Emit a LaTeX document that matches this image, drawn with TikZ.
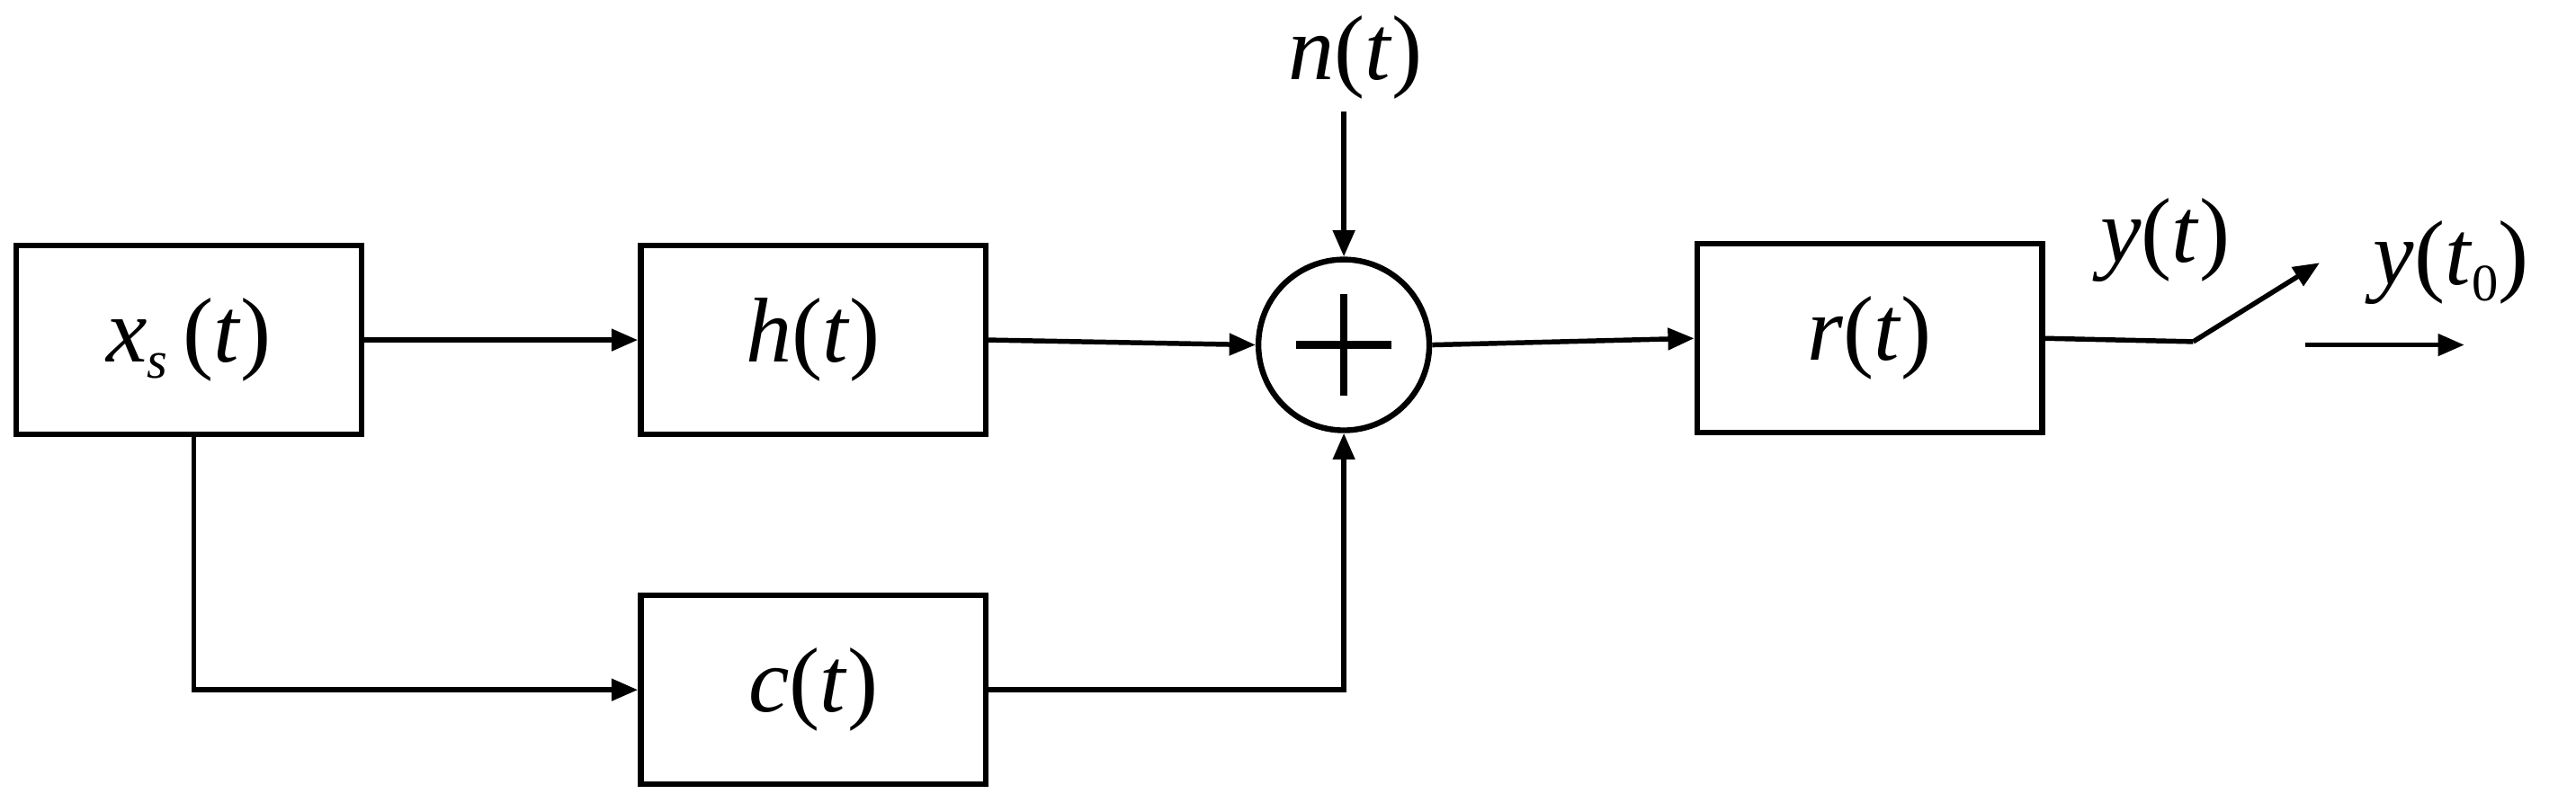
\documentclass[tikz,border=0pt]{standalone}
\usepackage{fontspec}
\setmainfont{Liberation Serif}
\usetikzlibrary{arrows.meta,calc}
\newcommand{\mi}[1]{\textit{#1}}
\newcommand{\sub}[1]{\raisebox{-10pt}{\fontsize{32}{34}\selectfont #1}}
\begin{document}
\begin{tikzpicture}[x=1pt,y=-1pt,
  blk/.style={draw,line width=3.5pt,minimum width=210pt,minimum height=115pt,inner sep=0pt,font=\fontsize{56}{60}\selectfont},
  lbl/.style={font=\fontsize{56}{60}\selectfont,inner sep=0pt},
  ar/.style={line width=3pt,-{Triangle[length=16pt,width=13pt]}},
  ln/.style={line width=3pt}]
\useasboundingbox (0,0) rectangle (1568,494);
\node[blk] (xs) at (115,207) {\mi{x}\sub{\mi{s}}\,(\mi{t})};
\node[blk] (h) at (495,207) {\mi{h}(\mi{t})};
\node[blk] (c) at (495,420) {\mi{c}(\mi{t})};
\node[blk] (r) at (1138,206) {\mi{r}(\mi{t})};
\node[draw,circle,line width=3.5pt,minimum size=104pt,inner sep=0pt] (s) at (818,210) {};
\draw[line width=4.5pt] ($(s)+(-29,0)$) -- +(58,0) ($(s)+(0,-31)$) -- +(0,62);
\node[lbl] (n) at (825,35) {\mi{n}(\mi{t})};
\coordinate (ntop) at (818,68);
\coordinate (corner1) at (118,420);
\coordinate (corner2) at (818,420);
\coordinate (sw1) at (1335,208);
\coordinate (sw2) at (1412,160);
\coordinate (o1) at (1403,210);
\coordinate (o2) at (1500,210);
\node[lbl] (y) at (1318,146) {\mi{y}(\mi{t})};
\node[lbl] (y0) at (1492,160) {\mi{y}(\mi{t}\sub{0})};
\draw[ar] (xs.east) -- (h.west);
\draw[ar] (h.east) -- (s.west);
\draw[ar] (s.east) -- (r.west);
\draw[ar] (ntop) -- (s.north);
\draw[ar] (xs.south -| corner1) -- (corner1) -- (c.west);
\draw[ar] (c.east) -- (corner2) -- (s.south);
\draw[ln] (r.east) -- (sw1);
\draw[ar] (sw1) -- (sw2);
\draw[ar] (o1) -- (o2);
\end{tikzpicture}
\end{document}
